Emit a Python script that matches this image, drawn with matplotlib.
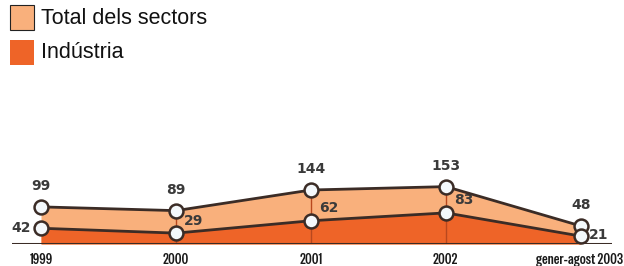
import matplotlib
matplotlib.use("Agg")
import matplotlib.pyplot as plt
from matplotlib.patches import Rectangle

years = ["1999", "2000", "2001", "2002", "gener-agost 2003"]
total = [99, 89, 144, 153, 48]
industria = [42, 29, 62, 83, 21]

W, H = 624, 266
fig = plt.figure(figsize=(W / 100, H / 100), dpi=100)
fig.patch.set_facecolor("white")

ax_l, ax_r = 12, 612
ax_b, ax_t = 244, 140
ax = fig.add_axes([ax_l / W, (H - ax_b) / H, (ax_r - ax_l) / W, (ax_b - ax_t) / H])
ax.set_xlim(-29 / 135, 4 + 31 / 135)
ax.set_ylim(0, (ax_b - ax_t) / 0.375)
ax.axis("off")

x = list(range(len(years)))
light = "#F9B07C"
dark = "#EE6428"
line_c = "#3b2c26"

ax.fill_between(x, 0, total, color=light, lw=0, zorder=1)
ax.fill_between(x, 0, industria, color=dark, lw=0, zorder=2)
for i in x[1:4]:
    ax.plot([i, i], [0, total[i]], color="#B8481E", lw=1.0, zorder=3)
ax.plot(x, total, color=line_c, lw=2.0, zorder=4)
ax.plot(x, industria, color=line_c, lw=2.0, zorder=4)
ax.plot(x, total, "o", ms=10, mfc="#F4F8FB", mec=line_c, mew=1.8, zorder=5)
ax.plot(x, industria, "o", ms=10, mfc="#F4F8FB", mec=line_c, mew=1.8, zorder=5)
ax.axhline(0, xmin=0, xmax=1, color=line_c, lw=2.2, zorder=6)

lab_kw = dict(fontsize=10, fontweight="bold", color="#3a3a3a", family="DejaVu Sans")
for i, v in enumerate(total):
    ax.annotate(str(v), (i, v), xytext=(0, 15), textcoords="offset points",
                ha="center", va="center", **lab_kw)
offs = [(-7, 0, "right"), (6, 9, "left"), (6, 9, "left"), (6, 9, "left"), (6, 1, "left")]
for i, v in enumerate(industria):
    dx, dy, ha = offs[i]
    ax.annotate(str(v), (i, v), xytext=(dx, dy), textcoords="offset points",
                ha=ha, va="center", **lab_kw)

tick_kw = dict(fontsize=10.5, family=["Special Gothic Condensed One", "DejaVu Sans"],
               color="#1a1a1a")
for i, t in enumerate(years):
    if i == len(years) - 1:
        ax.annotate(t, (i, 0), xytext=(42, -16), textcoords="offset pixels", ha="right",
                    va="center", **tick_kw)
    else:
        ax.annotate(t, (i, 0), xytext=(0, -16), textcoords="offset pixels", ha="center",
                    va="center", **tick_kw)

fig.patches.append(Rectangle((10 / W, (H - 30) / H), 24 / W, 25 / H, transform=fig.transFigure,
                             facecolor=light, edgecolor="#222222", lw=0.8))
fig.patches.append(Rectangle((10 / W, (H - 65) / H), 24 / W, 25 / H, transform=fig.transFigure,
                             facecolor=dark, edgecolor="none"))
fig.text(41 / W, (H - 18) / H, "Total dels sectors", fontsize=15.5, family="Liberation Sans",
         va="center", ha="left", color="#111111")
fig.text(41 / W, (H - 53) / H, "Indústria", fontsize=15.5, family="Liberation Sans",
         va="center", ha="left", color="#111111")

fig.savefig("out.png", dpi=100, facecolor="white")
